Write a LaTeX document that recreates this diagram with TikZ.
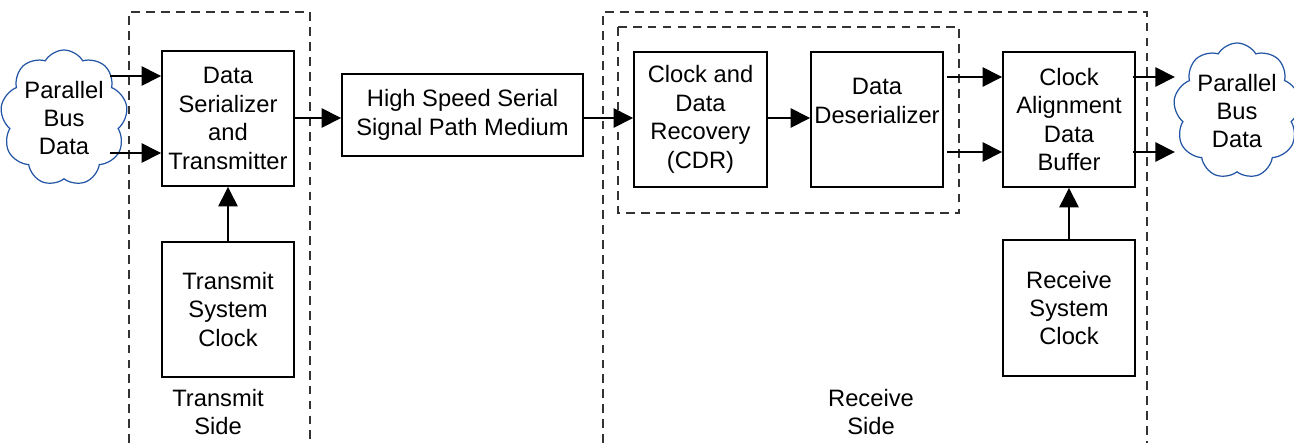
\documentclass[tikz,border=0pt]{standalone}
\usepackage{fontspec}
\setmainfont{Liberation Sans}
\usetikzlibrary{arrows.meta,shapes.symbols}

\begin{document}
\begin{tikzpicture}[x=0.02cm, y=-0.02cm,
  font=\fontsize{13.5}{16.2}\selectfont,
  block/.style={rectangle, draw, line width=1.1pt, align=center, inner sep=0pt, minimum width=2.64cm, minimum height=2.7cm},
  arr/.style={-{Triangle[length=11pt,width=11pt]}, line width=0.8pt},
  wolke/.style={cloud, cloud puffs=9, cloud puff arc=120, draw={rgb,255:red,35;green,85;blue,165}, line width=0.7pt, align=center, inner sep=0pt, minimum width=2.26cm, minimum height=2.72cm},
  rand/.style={draw=black!80, line width=0.8pt, dash pattern=on 5pt off 3.5pt}]
  \useasboundingbox (0,0) rectangle (1294,443);

  % Gestrichelte Bereiche
  \draw[rand] (129,443) -- (129,12) -- (310,12) -- (310,443);
  \draw[rand] (603,443) -- (603,12) -- (1147,12) -- (1147,443);
  \draw[rand] (618,27) rectangle (959,213);

  % Wolken
  \node [wolke] (cloudL) at (64,118) {Parallel\\Bus\\Data};
  \node [wolke] (cloudR) at (1237,111) {Parallel\\Bus\\Data};

  % Boxen
  \node [block] (ser) at (228,118.5) {Data\\Serializer\\and\\Transmitter};
  \node [block] (txclk) at (228,309.5) {Transmit\\System\\Clock};
  \node [block, minimum width=4.82cm, minimum height=1.64cm] (hss) at (462.5,115) {High Speed Serial\\Signal Path Medium};
  \node [block, minimum width=2.66cm] (cdr) at (700.5,119.5) {Clock and\\Data\\Recovery\\(CDR)};
  \node [block] (deser) at (877,119.5) {Data\\Deserializer\\\strut};
  \node [block] (buf) at (1069,119.5) {Clock\\Alignment\\Data\\Buffer};
  \node [block, minimum height=2.72cm] (rxclk) at (1069,308) {Receive\\System\\Clock};

  % Beschriftungen
  \node [align=center] (txside) at (218,412) {Transmit\\Side};
  \node [align=center] (rxside) at (871,412) {Receive\\Side};

  % Hilfspunkte
  \coordinate (in1) at (110,76);
  \coordinate (in2) at (110,153);
  \coordinate (ds1) at (947,77);
  \coordinate (ds2) at (947,152);
  \coordinate (out1) at (1133,77);
  \coordinate (out2) at (1133,152);

  % Pfeile
  \draw[arr] (in1) -- (in1 -| ser.west);
  \draw[arr] (in2) -- (in2 -| ser.west);
  \draw[arr] (txclk) -- (ser);
  \draw[arr] (ser.east |- 0,118) -- (hss.west |- 0,118);
  \draw[arr] (hss.east |- 0,118) -- (cdr.west |- 0,118);
  \draw[arr] (cdr.east |- 0,118) -- (deser.west |- 0,118);
  \draw[arr] (ds1) -- (ds1 -| buf.west);
  \draw[arr] (ds2) -- (ds2 -| buf.west);
  \draw[arr] (rxclk) -- (buf);
  \draw[arr] (out1) -- (out1 -| cloudR.west);
  \draw[arr] (out2) -- (out2 -| cloudR.west);
\end{tikzpicture}
\end{document}
